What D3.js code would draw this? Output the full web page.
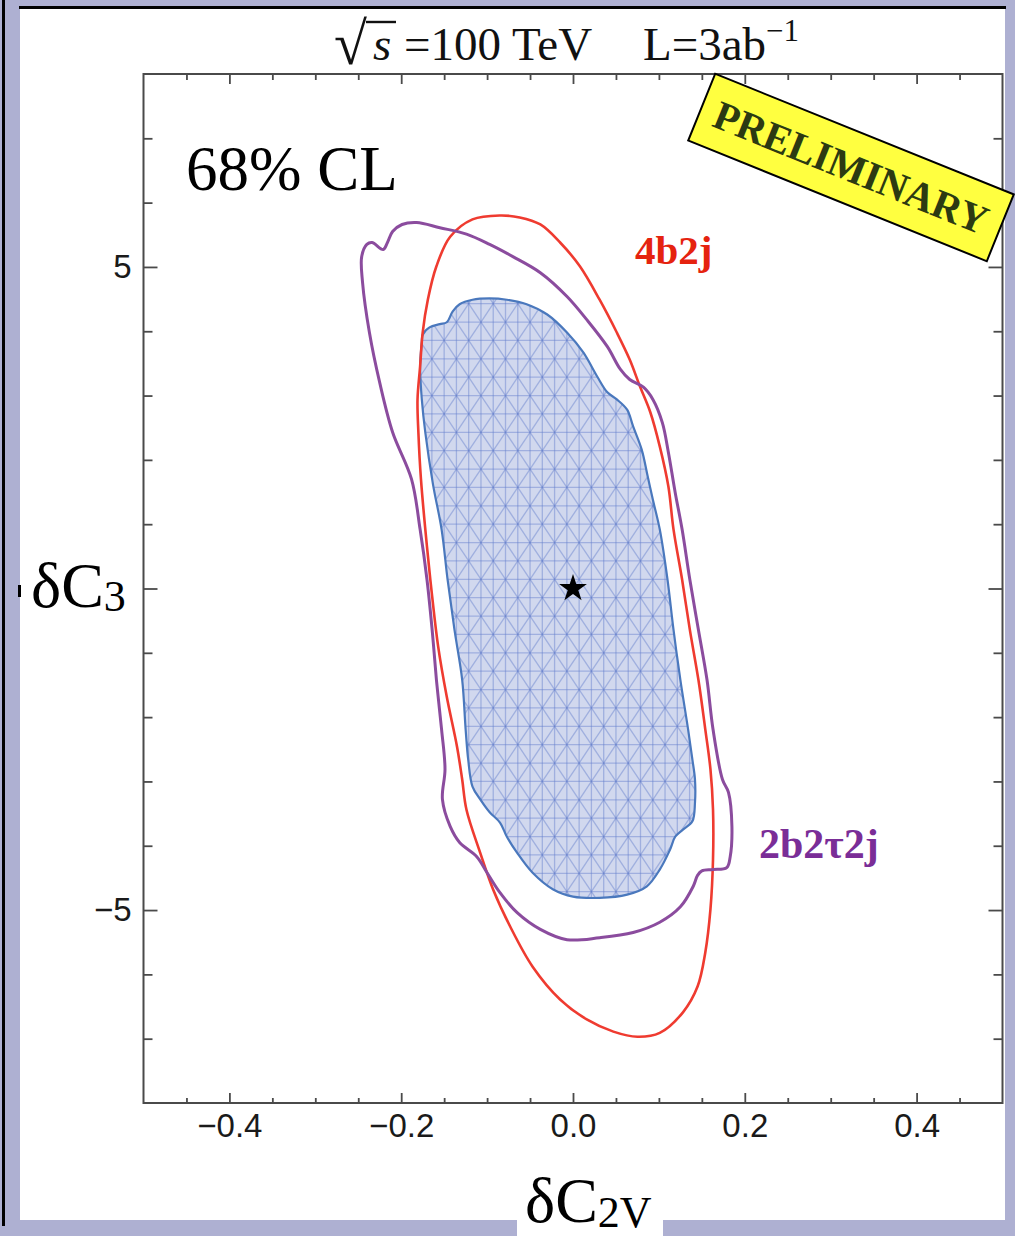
<!DOCTYPE html>
<html>
<head>
<meta charset="utf-8">
<script src="https://cdn.jsdelivr.net/npm/d3@7"></script>
<style>
  html, body { margin: 0; padding: 0; background: #aeb0d2; }
  svg { display: block; }
</style>
</head>
<body>
<svg id="chart" width="1015" height="1236"></svg>
<script>
// 68% CL contours in the (dC2V, dC3) plane, sqrt(s)=100 TeV, L=3/ab

// 4b2j channel contour
const contour4b2j = [[-0.085,5.80],[-0.062,5.77],[-0.038,5.66],[-0.015,5.38],[0.008,5.01],[0.031,4.49],[0.051,3.98],[0.066,3.56],[0.078,3.14],[0.090,2.74],[0.101,2.21],[0.111,1.59],[0.117,0.92],[0.127,0.14],[0.136,-0.64],[0.146,-1.42],[0.154,-2.19],[0.160,-2.81],[0.163,-3.44],[0.163,-4.21],[0.160,-4.99],[0.154,-5.66],[0.145,-6.19],[0.128,-6.59],[0.101,-6.91],[0.075,-6.97],[0.047,-6.89],[0.016,-6.70],[-0.015,-6.39],[-0.047,-5.88],[-0.073,-5.26],[-0.093,-4.68],[-0.108,-4.11],[-0.124,-3.44],[-0.129,-2.97],[-0.135,-2.46],[-0.147,-1.68],[-0.157,-0.90],[-0.164,-0.12],[-0.170,0.65],[-0.177,1.70],[-0.180,2.43],[-0.181,2.94],[-0.178,3.45],[-0.175,3.98],[-0.169,4.49],[-0.159,5.01],[-0.143,5.47],[-0.117,5.74]];

// 2b2tau2j channel contour
const contour2b2t2j = [[-0.246,5.16],[-0.240,5.35],[-0.234,5.38],[-0.221,5.27],[-0.216,5.38],[-0.210,5.55],[-0.199,5.66],[-0.182,5.69],[-0.155,5.61],[-0.124,5.51],[-0.097,5.35],[-0.070,5.16],[-0.038,4.91],[-0.007,4.54],[0.016,4.18],[0.040,3.76],[0.055,3.41],[0.066,3.25],[0.082,3.13],[0.093,2.94],[0.104,2.58],[0.111,2.12],[0.119,1.49],[0.127,0.92],[0.136,0.14],[0.146,-0.64],[0.156,-1.42],[0.163,-2.19],[0.174,-2.97],[0.181,-3.17],[0.185,-3.70],[0.183,-4.17],[0.179,-4.34],[0.163,-4.37],[0.150,-4.39],[0.145,-4.46],[0.140,-4.63],[0.125,-4.95],[0.101,-5.19],[0.070,-5.35],[0.031,-5.43],[-0.007,-5.46],[-0.038,-5.30],[-0.065,-5.04],[-0.085,-4.73],[-0.100,-4.42],[-0.112,-4.17],[-0.132,-3.95],[-0.143,-3.70],[-0.152,-3.28],[-0.149,-2.81],[-0.153,-2.19],[-0.159,-1.42],[-0.164,-0.64],[-0.170,0.14],[-0.178,0.92],[-0.188,1.70],[-0.210,2.43],[-0.225,3.20],[-0.237,3.98],[-0.245,4.76]];

// combined region (filled)
const contourCombined = [[-0.097,4.51],[-0.077,4.49],[-0.054,4.42],[-0.030,4.26],[-0.007,3.98],[0.012,3.67],[0.028,3.30],[0.040,3.05],[0.051,2.94],[0.063,2.78],[0.070,2.52],[0.080,2.16],[0.087,1.74],[0.093,1.38],[0.101,0.92],[0.110,0.14],[0.117,-0.64],[0.125,-1.42],[0.134,-2.19],[0.139,-2.66],[0.142,-2.97],[0.142,-3.33],[0.139,-3.62],[0.128,-3.75],[0.119,-3.86],[0.113,-4.06],[0.101,-4.37],[0.086,-4.63],[0.063,-4.76],[0.031,-4.81],[0.000,-4.79],[-0.023,-4.68],[-0.047,-4.42],[-0.065,-4.11],[-0.077,-3.86],[-0.085,-3.64],[-0.097,-3.48],[-0.108,-3.28],[-0.117,-3.08],[-0.122,-2.66],[-0.125,-2.19],[-0.129,-1.42],[-0.138,-0.64],[-0.146,0.14],[-0.153,0.92],[-0.163,1.62],[-0.172,2.43],[-0.176,2.94],[-0.178,3.45],[-0.176,3.83],[-0.175,3.95],[-0.167,4.06],[-0.155,4.11],[-0.147,4.14],[-0.140,4.31],[-0.132,4.42],[-0.117,4.49]];

// Standard Model point
const smPoint = [0, 0];

// axis ticks
const xMajorTicks = [-0.4, -0.2, 0.0, 0.2, 0.4];
const xMinorTicks = [-0.45,-0.35,-0.3,-0.25,-0.15,-0.1,-0.05,0.05,0.1,0.15,0.25,0.3,0.35,0.45];
const yMajorTicks = [-5, 0, 5];
const yMinorTicks = [-7,-6,-4,-3,-2,-1,1,2,3,4,6,7];
const yLabelled = [-5, 5];

const svg = d3.select("#chart");
const W = 1015, H = 1236;

// page frame
svg.append("rect").attr("width", W).attr("height", H).attr("fill", "#aeb0d2");
svg.append("rect").attr("x", 20).attr("y", 9).attr("width", 985).attr("height", 1211).attr("fill", "#fff");
svg.append("rect").attr("x", 19).attr("y", 6).attr("width", 987).attr("height", 3).attr("fill", "#000");
svg.append("rect").attr("x", 2).attr("y", 0).attr("width", 3).attr("height", 1226).attr("fill", "#000");

const x = d3.scaleLinear().domain([-0.5, 0.5]).range([143.5, 1002.5]);
const y = d3.scaleLinear().domain([-8, 8]).range([1103, 74]);

const plot = svg.append("g");
const defs = svg.append("defs");

const line = d3.line().x(d => x(d[0])).y(d => y(d[1])).curve(d3.curveCatmullRomClosed.alpha(0.5));

// combined region: fill + triangulated mesh
defs.append("clipPath").attr("id", "combClip")
  .append("path").attr("d", line(contourCombined));

plot.append("path").attr("d", line(contourCombined)).attr("fill", "#d1d8ee").attr("stroke", "none");

const mesh = plot.append("g").attr("clip-path", "url(#combClip)")
  .attr("stroke", "rgba(100,126,205,0.45)").attr("stroke-width", 1.3).attr("fill", "none");
const dx = 1 / 70, dy = 2 / 7;
const xs = d3.range(-36, 36).map(k => (k + 0.5) * dx);
const ys = d3.range(-29, 29).map(k => (k + 0.5) * dy);
const meshX0 = -0.2, meshX1 = 0.2, meshY0 = -5.5, meshY1 = 5;
xs.forEach(v => mesh.append("line").attr("x1", x(v)).attr("x2", x(v)).attr("y1", y(meshY0)).attr("y2", y(meshY1)));
ys.forEach(v => mesh.append("line").attr("x1", x(meshX0)).attr("x2", x(meshX1)).attr("y1", y(v)).attr("y2", y(v)));
// alternating diagonals in each cell
for (let i = 0; i < xs.length - 1; i++) {
  for (let j = 0; j < ys.length - 1; j++) {
    const xa = xs[i], xb = xs[i + 1], ya = ys[j], yb = ys[j + 1];
    if (xa < meshX0 || xb > meshX1 || ya < meshY0 || yb > meshY1) continue;
    if ((i + j) % 2 === 0) {
      mesh.append("line").attr("x1", x(xa)).attr("y1", y(yb)).attr("x2", x(xb)).attr("y2", y(ya));
    } else {
      mesh.append("line").attr("x1", x(xa)).attr("y1", y(ya)).attr("x2", x(xb)).attr("y2", y(yb));
    }
  }
}

plot.append("path").attr("d", line(contourCombined)).attr("fill", "none")
  .attr("stroke", "#4a78bd").attr("stroke-width", 2.2);

plot.append("path").attr("d", line(contour4b2j)).attr("fill", "none")
  .attr("stroke", "#ef3b30").attr("stroke-width", 2.6);

plot.append("path").attr("d", line(contour2b2t2j)).attr("fill", "none")
  .attr("stroke", "#8b4c9e").attr("stroke-width", 3);

plot.append("path")
  .attr("d", d3.symbol(d3.symbolStar, 240)())
  .attr("transform", `translate(${x(smPoint[0])},${y(smPoint[1])})`)
  .attr("fill", "#000");

// frame axes
const tickFont = "'Liberation Sans', Arial, sans-serif";
function styleAxis(g) {
  g.select(".domain").remove();
  g.selectAll(".tick line").attr("stroke", "#4a4a4a").attr("stroke-width", 1.8);
  g.selectAll(".tick text").attr("font-family", tickFont).attr("font-size", 33).attr("fill", "#1a1a1a");
}
const fmtX = d3.format(".1f");
svg.append("g").attr("transform", `translate(0,${y(-8)})`)
  .call(d3.axisBottom(x).tickValues(xMajorTicks).tickSizeInner(-10).tickSizeOuter(0).tickPadding(11).tickFormat(fmtX))
  .call(styleAxis);
svg.append("g").attr("transform", `translate(0,${y(-8)})`)
  .call(d3.axisBottom(x).tickValues(xMinorTicks).tickSizeInner(-5).tickSizeOuter(0).tickFormat(""))
  .call(styleAxis);
svg.append("g").attr("transform", `translate(0,${y(8)})`)
  .call(d3.axisTop(x).tickValues(xMajorTicks).tickSizeInner(-10).tickSizeOuter(0).tickFormat(""))
  .call(styleAxis);
svg.append("g").attr("transform", `translate(0,${y(8)})`)
  .call(d3.axisTop(x).tickValues(xMinorTicks).tickSizeInner(-6).tickSizeOuter(0).tickFormat(""))
  .call(styleAxis);
const fmtY = d3.format("d");
svg.append("g").attr("transform", `translate(${x(-0.5)},0)`)
  .call(d3.axisLeft(y).tickValues(yMajorTicks).tickSizeInner(-14).tickSizeOuter(0).tickPadding(12)
    .tickFormat(d => yLabelled.includes(d) ? fmtY(d) : ""))
  .call(styleAxis);
svg.append("g").attr("transform", `translate(${x(-0.5)},0)`)
  .call(d3.axisLeft(y).tickValues(yMinorTicks).tickSizeInner(-9).tickSizeOuter(0).tickFormat(""))
  .call(styleAxis);
svg.append("g").attr("transform", `translate(${x(0.5)},0)`)
  .call(d3.axisRight(y).tickValues(yMajorTicks).tickSizeInner(-14).tickSizeOuter(0).tickFormat(""))
  .call(styleAxis);
svg.append("g").attr("transform", `translate(${x(0.5)},0)`)
  .call(d3.axisRight(y).tickValues(yMinorTicks).tickSizeInner(-9).tickSizeOuter(0).tickFormat(""))
  .call(styleAxis);

svg.append("rect")
  .attr("x", x(-0.5)).attr("y", y(8))
  .attr("width", x(0.5) - x(-0.5)).attr("height", y(-8) - y(8))
  .attr("fill", "none").attr("stroke", "#4a4a4a").attr("stroke-width", 2);

// texts
const serif = "'Liberation Serif', 'Times New Roman', serif";

// title
const title = svg.append("g").attr("font-family", serif).attr("fill", "#111");
title.append("text").attr("x", 334).attr("y", 64).attr("font-size", 60).text("√");
title.append("line").attr("x1", 366).attr("x2", 396).attr("y1", 22).attr("y2", 22)
  .attr("stroke", "#111").attr("stroke-width", 2.4);
title.append("text").attr("x", 373).attr("y", 60).attr("font-size", 47).attr("font-style", "italic").text("s");
title.append("text").attr("x", 404).attr("y", 60).attr("font-size", 47).text("=100 TeV");
const tL = title.append("text").attr("x", 643).attr("y", 60).attr("font-size", 47);
tL.append("tspan").text("L=3ab");
tL.append("tspan").attr("dy", -19).attr("font-size", 31).text("−1");

svg.append("text").attr("x", 186).attr("y", 190).attr("font-family", serif).attr("font-size", 63)
  .attr("fill", "#000").text("68% CL");

svg.append("text").attr("x", 635).attr("y", 264).attr("font-family", serif).attr("font-size", 41)
  .attr("font-weight", "bold").attr("fill", "#e5230f").text("4b2j");

svg.append("text").attr("x", 759).attr("y", 858).attr("font-family", serif).attr("font-size", 42)
  .attr("font-weight", "bold").attr("fill", "#7a2d97").text("2b2τ2j");

// axis titles
const yTitle = svg.append("text").attr("x", 31).attr("y", 607).attr("font-family", serif).attr("font-size", 64).attr("fill", "#000");
yTitle.append("tspan").text("δC");
yTitle.append("tspan").attr("dy", 4).attr("font-size", 44).text("3");
svg.append("rect").attr("x", 18).attr("y", 585).attr("width", 3).attr("height", 12).attr("fill", "#000");

svg.append("rect").attr("x", 517).attr("y", 1208).attr("width", 146).attr("height", 28).attr("fill", "#fff");
const xTitle = svg.append("text").attr("x", 525).attr("y", 1222).attr("font-family", serif).attr("font-size", 64).attr("fill", "#000");
xTitle.append("tspan").text("δC");
xTitle.append("tspan").attr("dy", 5).attr("font-size", 44).text("2V");

// preliminary stamp
const stamp = svg.append("g").attr("transform", "translate(851,167.5) rotate(22)");
stamp.append("rect").attr("x", -161).attr("y", -36).attr("width", 322).attr("height", 72)
  .attr("fill", "#ffff40").attr("stroke", "#000").attr("stroke-width", 2);
stamp.append("text").attr("x", 0).attr("y", 14).attr("text-anchor", "middle")
  .attr("font-family", serif).attr("font-weight", "bold").attr("font-size", 41)
  .attr("textLength", 292).attr("lengthAdjust", "spacingAndGlyphs")
  .attr("fill", "#2c3a12").text("PRELIMINARY");
</script>
</body>
</html>
